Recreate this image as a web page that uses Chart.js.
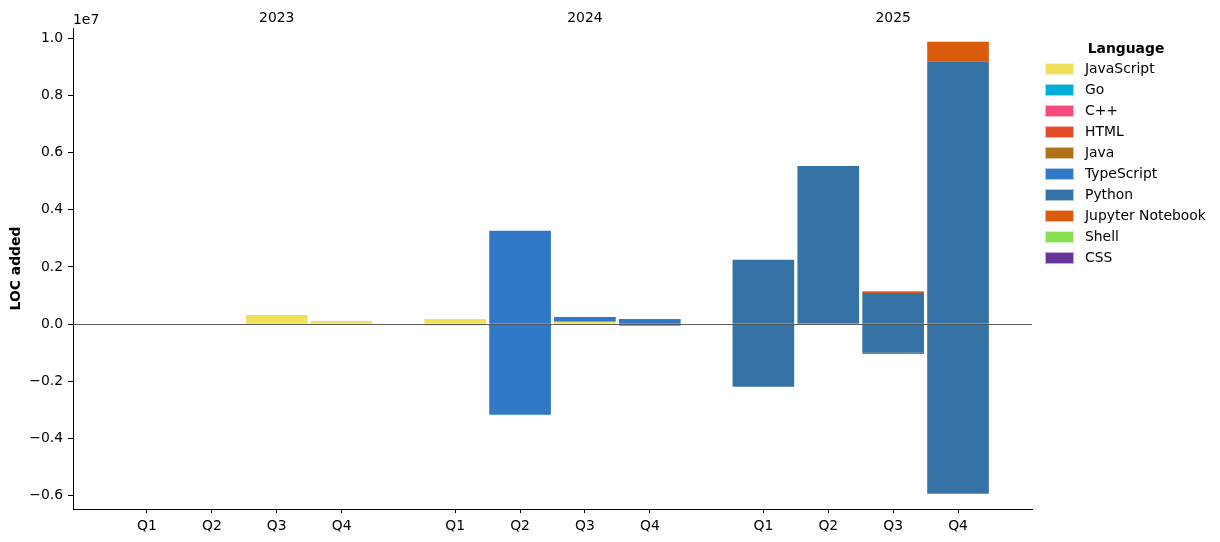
<!DOCTYPE html>
<html>
<head>
<meta charset="utf-8">
<script src="https://cdn.jsdelivr.net/npm/chart.js@4.4.1/dist/chart.umd.min.js"></script>
<style>
  body { margin: 0; background: #fff; font-family: "DejaVu Sans", sans-serif; }
  #wrap { position: relative; width: 1220px; height: 542px; }
  #legend { position: absolute; left: 1040px; top: 38px; width: 172px; font-size: 13.9px; color: #000; }
  #legend .title { font-weight: bold; text-align: center; height: 20px; line-height: 20px; padding-left: 0px; }
  #legend .item { height: 21px; line-height: 21px; position: relative; padding-left: 45px; white-space: nowrap; }
  #legend .box { position: absolute; left: 5px; top: 5px; width: 27px; height: 10px; border: 0.5px solid rgba(255,255,255,0.6); }
</style>
</head>
<body>
<div id="wrap">
  <canvas id="myChart" width="1220" height="542"></canvas>
  <div id="legend"></div>
</div>
<script>
// quarters per year
var years = ['2023', '2024', '2025'];
var quarters = ['Q1', 'Q2', 'Q3', 'Q4'];

var languages = ['JavaScript', 'Go', 'C++', 'HTML', 'Java', 'TypeScript', 'Python', 'Jupyter Notebook', 'Shell', 'CSS'];
var colors = ['#f1e05a', '#00add8', '#f34b7d', '#e34c26', '#b07219', '#3178c6', '#3572a5', '#da5b0b', '#89e051', '#663399'];

// lines added per quarter (2023 Q1 .. 2025 Q4)
var addedJavaScript = [0, 0, 320000, 110000, 180000, 0, 80000, 0, 0, 0, 0, 0];
var addedGo         = [0, 0, 0, 0, 0, 0, 0, 0, 0, 40000, 0, 0];
var addedCpp        = [0, 0, 0, 0, 0, 0, 0, 0, 0, 0, 0, 0];
var addedHTML       = [0, 0, 0, 0, 0, 0, 0, 0, 0, 0, 0, 0];
var addedJava       = [0, 0, 0, 0, 0, 0, 0, 0, 0, 0, 0, 0];
var addedTypeScript = [0, 0, 0, 0, 0, 3260000, 170000, 180000, 0, 0, 0, 0];
var addedPython     = [0, 0, 0, 0, 0, 0, 0, 0, 2250000, 5490000, 1090000, 9180000];
var addedJupyter    = [0, 0, 0, 0, 0, 0, 0, 0, 0, 0, 30000, 690000];
var addedShell      = [0, 0, 0, 0, 0, 0, 0, 0, 0, 0, 0, 0];
var addedCSS        = [0, 0, 0, 0, 0, 0, 0, 0, 0, 0, 20000, 0];

// lines removed per quarter (negative)
var removedJavaScript = [0, 0, 0, 0, -50000, 0, 0, 0, 0, 0, 0, 0];
var removedTypeScript = [0, 0, 0, 0, 0, -3170000, 0, -35000, 0, 0, 0, 0];
var removedPython     = [0, 0, 0, 0, 0, 0, 0, -20000, -2190000, 0, -1000000, -5930000];
var removedCSS        = [0, 0, 0, 0, 0, 0, 0, 0, 0, 0, -30000, 0];

var added = [addedJavaScript, addedGo, addedCpp, addedHTML, addedJava, addedTypeScript, addedPython, addedJupyter, addedShell, addedCSS];
var removed = {0: removedJavaScript, 5: removedTypeScript, 6: removedPython, 9: removedCSS};

var yTicks = [-6000000, -4000000, -2000000, 0, 2000000, 4000000, 6000000, 8000000, 10000000];

// x positions: 4 quarters per year, a gap between years
var yearGap = 4.75;
var xPos = [];
var xLabels = [];
years.forEach(function (y, yi) {
    quarters.forEach(function (q, qi) {
        xPos.push(yi * yearGap + qi);
        xLabels.push(q);
    });
});
var yearPos = years.map(function (y, yi) { return yi * yearGap + 2; });

function toPoints(values) {
    return values.map(function (v, i) { return {x: xPos[i], y: v}; });
}

var datasets = [];
languages.forEach(function (name, i) {
    datasets.push({label: name, data: toPoints(added[i]), backgroundColor: colors[i], borderWidth: 0});
});
languages.forEach(function (name, i) {
    if (removed[i]) {
        datasets.push({label: name + ' removed', data: toPoints(removed[i]), backgroundColor: colors[i], borderWidth: 0});
    }
});

// legend
var legendEl = document.getElementById('legend');
var html = '<div class="title">Language</div>';
languages.forEach(function (name, i) {
    html += '<div class="item"><span class="box" style="background:' + colors[i] + '"></span>' + name + '</div>';
});
legendEl.innerHTML = html;

var zeroLine = {
    id: 'zeroLine',
    afterDatasetsDraw: function (chart) {
        var ctx = chart.ctx;
        var y = Math.round(chart.scales.y.getPixelForValue(0)) + 0.5;
        ctx.save();
        ctx.strokeStyle = '#333';
        ctx.lineWidth = 0.8;
        ctx.beginPath();
        ctx.moveTo(chart.chartArea.left, y);
        ctx.lineTo(chart.chartArea.right, y);
        ctx.stroke();
        ctx.restore();
    }
};

var offsetText = {
    id: 'offsetText',
    afterDraw: function (chart) {
        var ctx = chart.ctx;
        ctx.save();
        ctx.fillStyle = '#000';
        ctx.font = '13.9px "DejaVu Sans"';
        ctx.textBaseline = 'middle';
        ctx.fillText('1e7', chart.chartArea.left, 20);
        ctx.restore();
    }
};

Chart.defaults.font.family = '"DejaVu Sans", sans-serif';
Chart.defaults.font.size = 13.9;
Chart.defaults.color = '#000';

var ctx = document.getElementById('myChart');
var config = {
    type: 'bar',
    data: {datasets: datasets},
    options: {
        responsive: false,
        animation: false,
        devicePixelRatio: 1,
        layout: {padding: {left: 0, right: 188, top: 0, bottom: 0}},
        plugins: {legend: {display: false}, tooltip: {enabled: false}},
        datasets: {bar: {categoryPercentage: 1, barPercentage: 0.95}},
        scales: {
            x: {
                type: 'linear',
                position: 'bottom',
                stacked: true,
                offset: false,
                min: -1.14,
                max: 13.64,
                grid: {drawOnChartArea: false, offset: false, color: '#000', tickColor: '#000', tickLength: 4},
                border: {display: true, color: '#000', width: 1},
                afterBuildTicks: function (s) { s.ticks = xPos.map(function (v) { return {value: v}; }); },
                ticks: {
                    autoSkip: false, maxRotation: 0, padding: 5,
                    callback: function (v, i) { return xLabels[i]; }
                },
                afterFit: function (s) { s.height = 33; }
            },
            x2: {
                type: 'linear',
                position: 'top',
                offset: false,
                min: -1.14,
                max: 13.64,
                grid: {display: false, drawTicks: false},
                border: {display: false},
                afterBuildTicks: function (s) { s.ticks = yearPos.map(function (v) { return {value: v}; }); },
                ticks: {
                    autoSkip: false, maxRotation: 0, padding: 1,
                    callback: function (v, i) { return years[i]; }
                },
                afterFit: function (s) { s.height = 28; }
            },
            y: {
                stacked: true,
                min: -6460000,
                max: 10350000,
                grid: {drawOnChartArea: false, color: '#000', tickColor: '#000', tickLength: 5},
                border: {display: true, color: '#000', width: 1},
                afterBuildTicks: function (s) { s.ticks = yTicks.map(function (v) { return {value: v}; }); },
                ticks: {
                    padding: 5,
                    callback: function (v) { return (v / 1e7).toFixed(1).replace('-', '\u2212'); }
                },
                title: {display: true, text: 'LOC added', font: {weight: 'bold', size: 13.9}, padding: {top: 8, bottom: 4}},
                afterFit: function (s) { s.width = 73; }
            }
        }
    },
    plugins: [zeroLine, offsetText]
};
var currentChart = new Chart(ctx, config);
</script>
</body>
</html>
